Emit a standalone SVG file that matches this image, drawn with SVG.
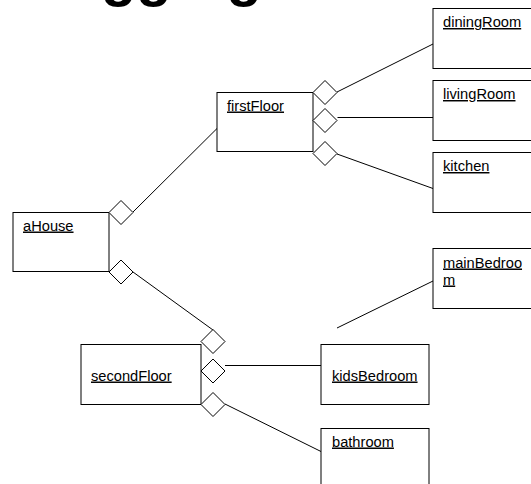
<svg xmlns="http://www.w3.org/2000/svg" width="531" height="484" viewBox="0 0 531 484">
<style>
.box{fill:#fff;stroke:#000;stroke-width:1}
.lbl{font-family:"Liberation Sans",Arial,sans-serif;font-size:14.67px;fill:#000;text-decoration:underline}
.dia{fill:#fff;stroke:#000;stroke-width:1}
.ln{stroke:#000;stroke-width:1;fill:none}
.title{font-family:"Liberation Sans",Arial,sans-serif;font-size:58px;font-weight:bold;fill:#000}
</style>
<defs>
<path id="dm" d="M0,0 L12,-12 L24,0 L12,12 Z"/>
</defs>
<rect width="531" height="484" fill="#fff"/>
<text class="title" x="59" y="-5">Aggregation</text>
<g id="connectors">
<line class="ln" x1="133" y1="212" x2="217" y2="128.5"/>
<line class="ln" x1="133" y1="272" x2="213" y2="330"/>
<line class="ln" x1="337" y1="92" x2="433" y2="44"/>
<line class="ln" x1="337.5" y1="117.5" x2="433" y2="117.5"/>
<line class="ln" x1="337" y1="154" x2="433" y2="188.5"/>
<line class="ln" x1="225" y1="365.5" x2="321" y2="365.5"/>
<line class="ln" x1="225" y1="404" x2="321" y2="451.5"/>
<line class="ln" x1="337" y1="328" x2="433" y2="281"/>
</g>
<g id="aHouse">
<rect class="box" x="13" y="212.5" width="96" height="59"/>
<text class="lbl" x="23" y="230.5">aHouse</text>
<use href="#dm" class="dia" x="109" y="212.5"/>
<use href="#dm" class="dia" x="109" y="272"/>
</g>
<g id="firstFloor">
<rect class="box" x="217" y="92.5" width="96" height="59"/>
<text class="lbl" x="227" y="110.5">firstFloor</text>
<use href="#dm" class="dia" x="313" y="92.5"/>
<use href="#dm" class="dia" x="313" y="120.5"/>
<use href="#dm" class="dia" x="313" y="153.5"/>
</g>
<g id="diningRoom">
<rect class="box" x="433" y="8.5" width="110" height="60"/>
<text class="lbl" x="443" y="27">diningRoom</text>
</g>
<g id="livingRoom">
<rect class="box" x="433" y="80.5" width="110" height="60"/>
<text class="lbl" x="443" y="99">livingRoom</text>
</g>
<g id="kitchen">
<rect class="box" x="433" y="152.5" width="110" height="60"/>
<text class="lbl" x="443" y="171">kitchen</text>
</g>
<g id="mainBedroom">
<rect class="box" x="433" y="248.5" width="110" height="60"/>
<text class="lbl" x="443" y="267.5">mainBedroo</text>
<text class="lbl" x="443" y="284.5">m</text>
</g>
<g id="secondFloor">
<rect class="box" x="81" y="344.5" width="120" height="60"/>
<text class="lbl" x="91" y="380.5">secondFloor</text>
<use href="#dm" class="dia" x="201" y="341.5"/>
<use href="#dm" class="dia" x="201" y="371"/>
<use href="#dm" class="dia" x="201" y="404.5"/>
</g>
<g id="kidsBedroom">
<rect class="box" x="321" y="344.5" width="108" height="60"/>
<text class="lbl" x="332" y="380.5">kidsBedroom</text>
</g>
<g id="bathroom">
<rect class="box" x="321" y="428.5" width="108" height="70"/>
<text class="lbl" x="332" y="446.5">bathroom</text>
</g>
</svg>
